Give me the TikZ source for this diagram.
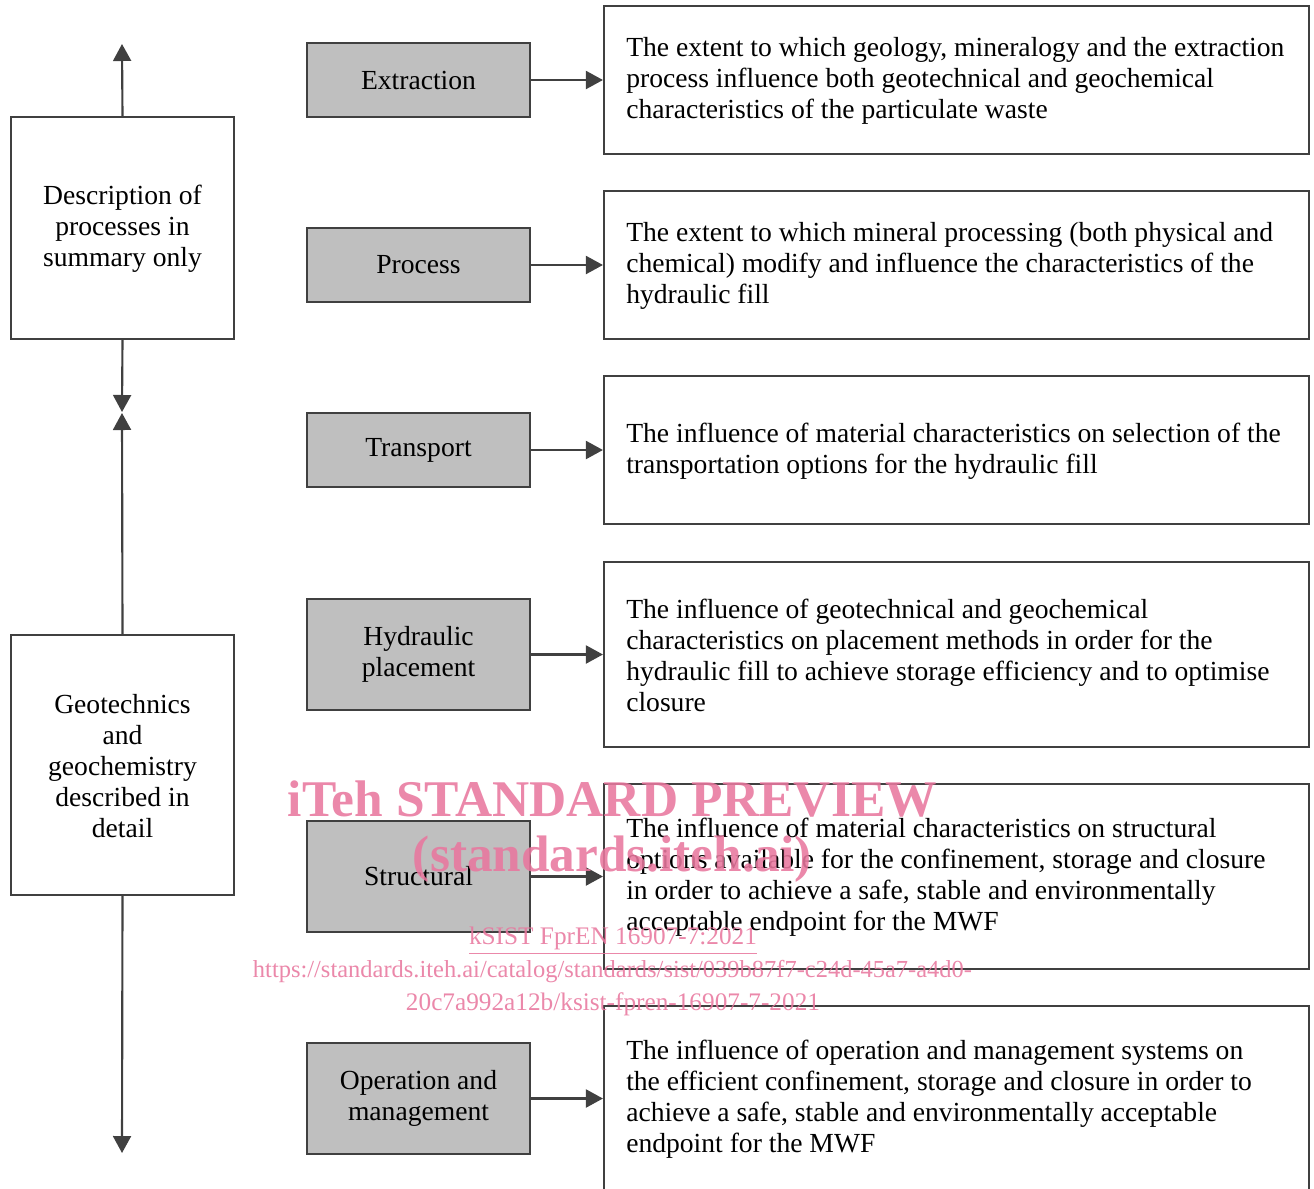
\documentclass[tikz,border=0pt]{standalone}
\usepackage{fontspec}
\setmainfont{Liberation Serif}
\usetikzlibrary{arrows.meta}
\definecolor{lc}{HTML}{404040}
\definecolor{gfill}{HTML}{BFBFBF}
\definecolor{wm}{HTML}{E8779E}
\begin{document}
\begin{tikzpicture}[x=0.75pt,y=-0.75pt,
  lbox/.style={draw=lc,line width=1.6pt,minimum width=167.25pt,inner sep=0pt},
  gbox/.style={draw=lc,fill=gfill,line width=1.6pt,minimum width=167.25pt,inner sep=0pt,align=center,font=\fontsize{20.7pt}{23.25pt}\selectfont},
  rbox/.style={draw=lc,line width=1.6pt,minimum width=528.75pt,inner sep=0pt},
  rtext/.style={anchor=west,align=left,inner sep=0pt,font=\fontsize{20.7pt}{23.25pt}\selectfont},
  ltext/.style={align=center,inner sep=0pt,font=\fontsize{20.7pt}{23.25pt}\selectfont},
  conn/.style={draw=lc,line width=1.6pt,-{Triangle[length=12.75pt,width=13.5pt]}},
  wmtext/.style={text=wm,text opacity=0.88,inner sep=0pt}]
\useasboundingbox (0,0) rectangle (1314,1189);
\begin{scope}
\clip (0,0) rectangle (1314,1189);
% left boxes
\node[lbox,minimum height=166.5pt] (L1) at (122.5,228) {};
\node[ltext] (L1t) at (122.5,229) {Description of\\processes in\\summary only};
\node[lbox,minimum height=195pt] (L2) at (122.5,765) {};
\node[ltext] (L2t) at (122.5,766) {Geotechnics\\and\\geochemistry\\described in\\detail};
\coordinate (Ctop) at (122,44);
\coordinate (Cmid1) at (122,412);
\coordinate (Cmid2) at (122,413);
\coordinate (Cbot) at (122,1153);
\draw[conn] (L1.north) -- (Ctop);
\draw[conn] (L1.south) -- (Cmid1);
\draw[conn] (L2.north) -- (Cmid2);
\draw[conn] (L2.south) -- (Cbot);
% gray boxes
\node[gbox,minimum height=55.5pt] (G1) at (418.5,80) {Extraction};
\node[gbox,minimum height=55.5pt] (G2) at (418.5,265) {Process};
\node[gbox,minimum height=55.5pt] (G3) at (418.5,450) {Transport};
\node[gbox,minimum height=83.25pt] (G4) at (418.5,654.5) {Hydraulic\\placement};
\node[gbox,minimum height=83.25pt] (G5) at (418.5,876.5) {Structural};
\node[gbox,minimum height=83.25pt] (G6) at (418.5,1098.5) {Operation and\\management};
% right boxes
\node[rbox,minimum height=111pt] (R1) at (956.5,80) {};
\node[rbox,minimum height=111pt] (R2) at (956.5,265) {};
\node[rbox,minimum height=111pt] (R3) at (956.5,450) {};
\node[rbox,minimum height=138.75pt] (R4) at (956.5,654.5) {};
\node[rbox,minimum height=138.75pt] (R5) at (956.5,876.5) {};
\node[rbox,minimum height=138.75pt] (R6) at (956.5,1098.5) {};
\node[rtext] (T1) at (626,81) {The extent to which geology, mineralogy and the extraction\\process influence both geotechnical and geochemical\\characteristics of the particulate waste};
\node[rtext] (T2) at (626,266) {The extent to which mineral processing (both physical and\\chemical) modify and influence the characteristics of the\\hydraulic fill};
\node[rtext] (T3) at (626,451) {The influence of material characteristics on selection of the\\transportation options for the hydraulic fill};
\node[rtext] (T4) at (626,655.5) {The influence of geotechnical and geochemical\\characteristics on placement methods in order for the\\hydraulic fill to achieve storage efficiency and to optimise\\closure};
\node[rtext] (T5) at (626,877.5) {The influence of material characteristics on structural\\options available for the confinement, storage and closure\\in order to achieve a safe, stable and environmentally\\acceptable endpoint for the MWF};
\node[rtext] (T6) at (626,1099.5) {The influence of operation and management systems on\\the efficient confinement, storage and closure in order to\\achieve a safe, stable and environmentally acceptable\\endpoint for the MWF};
\foreach \i in {1,...,6}{\draw[conn] (G\i.east) -- (G\i.east -| R\i.west);}
% watermark
\node[wmtext] (W1) at (612.5,799) {\resizebox{486.75pt}{!}{\bfseries iTeh STANDARD PREVIEW}};
\node[wmtext] (W2) at (612.5,859) {\resizebox{299.25pt}{!}{\bfseries (standards.iteh.ai)}};
\node[wmtext] (W3) at (613,941) {\resizebox{216pt}{!}{\underline{kSIST FprEN 16907-7:2021}}};
\node[wmtext] (W4) at (612.5,972) {\resizebox{539.25pt}{!}{https://standards.iteh.ai/catalog/standards/sist/039b87f7-c24d-45a7-a4d0-}};
\node[wmtext] (W5) at (613,1004) {\resizebox{310.5pt}{!}{20c7a992a12b/ksist-fpren-16907-7-2021}};
\end{scope}
\end{tikzpicture}
\end{document}
